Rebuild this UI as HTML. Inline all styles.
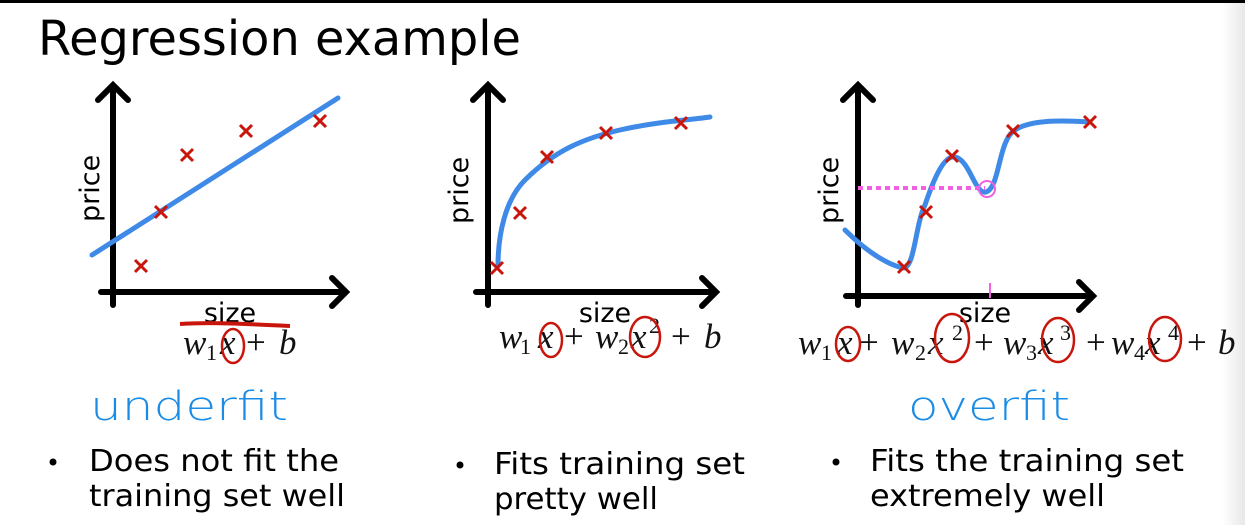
<!DOCTYPE html>
<html><head><meta charset="utf-8"><style>
html,body{margin:0;padding:0;background:#fff;}
svg{display:block}
</style></head><body>
<svg width="1245" height="525" viewBox="0 0 1245 525" xmlns="http://www.w3.org/2000/svg">
<defs><linearGradient id="g" x1="0" x2="1"><stop offset="0" stop-color="#fff"/><stop offset="1" stop-color="#e8e8e8"/></linearGradient></defs>
<rect x="0" y="0" width="1245" height="525" fill="#fff"/>
<rect x="1222" y="0" width="23" height="525" fill="url(#g)"/>
<rect x="0" y="0" width="1245" height="3" fill="#000"/>
<text x="38" y="55" font-family="DejaVu Sans, sans-serif" font-size="48" textLength="483" lengthAdjust="spacingAndGlyphs">Regression example</text>

<g fill="none" stroke="#000" stroke-width="6" stroke-linecap="round" stroke-linejoin="miter">
<path d="M113 305V85M98 100L113 85L128 100"/>
<path d="M101 292H346M332 278L346 292L332 306"/>
<path d="M488 305V85M473 100L488 85L503 100"/>
<path d="M476 292H716M702 278L716 292L702 306"/>
<path d="M858 305V85M843 100L858 85L873 100"/>
<path d="M846 296H1093M1079 282L1093 296L1079 310"/>
</g>
<g font-family="DejaVu Sans, sans-serif" font-size="27" fill="#000">
<text x="230" y="322" text-anchor="middle">size</text>
<text x="605" y="322" text-anchor="middle">size</text>
<text x="985" y="322" text-anchor="middle">size</text>
<text transform="translate(99,222) rotate(-90)">price</text>
<text transform="translate(468,224) rotate(-90)">price</text>
<text transform="translate(838,224) rotate(-90)">price</text>
</g>
<g fill="none" stroke="#3f8ae6" stroke-width="5" stroke-linecap="round">
<path d="M92 255L338 98"/>
<path d="M498 266C498 235 505 200 525 180C555 150 585 138 620 130C660 121 690 120 710 117"/>
<path d="M845 230C870 255 890 265 903 268C915 268 915 225 925 205C935 175 945 155 955 157C970 160 975 195 986 192C1000 188 998 140 1015 130C1030 120 1060 120 1090 122"/>
</g>
<path d="M858 188H985" stroke="#f060e0" stroke-width="4" stroke-dasharray="5,4" fill="none"/>
<circle cx="987" cy="189" r="8" stroke="#f060e0" stroke-width="2" fill="none"/>
<path d="M990 283V298" stroke="#f060e0" stroke-width="2"/>
<g stroke="#c8160c" stroke-width="3" fill="none">
<path d="M135 260l12 12m0-12l-12 12M155 206l12 12m0-12l-12 12M181 149l12 12m0-12l-12 12M240 125l12 12m0-12l-12 12M314 115l12 12m0-12l-12 12"/>
<path d="M491 262l12 12m0-12l-12 12M514 207l12 12m0-12l-12 12M541 151l12 12m0-12l-12 12M600 127l12 12m0-12l-12 12M675 117l12 12m0-12l-12 12"/>
<path d="M898 261l12 12m0-12l-12 12M920 206l12 12m0-12l-12 12M946 150l12 12m0-12l-12 12M1007 125l12 12m0-12l-12 12M1084 116l12 12m0-12l-12 12"/>
</g>
<g font-family="Liberation Serif, serif" font-style="italic" font-size="35" fill="#111">
<text x="183" y="354">w</text><text x="206" y="360" font-size="22" font-style="normal">1</text><text x="220" y="354">x</text><text x="246" y="354" font-style="normal">+</text><text x="279" y="354">b</text>

<text x="499" y="348">w</text><text x="520" y="354" font-size="22" font-style="normal">1</text><text x="538" y="348">x</text><text x="564" y="348" font-style="normal">+</text><text x="595" y="348">w</text><text x="618" y="354" font-size="22" font-style="normal">2</text><text x="631" y="348">x</text><text x="649" y="333" font-size="22" font-style="normal">2</text><text x="671" y="348" font-style="normal">+</text><text x="704" y="348">b</text>

<text x="798" y="354">w</text><text x="821" y="360" font-size="22" font-style="normal">1</text><text x="837" y="354">x</text><text x="859" y="354" font-style="normal">+</text><text x="891" y="354">w</text><text x="915" y="360" font-size="22" font-style="normal">2</text><text x="928" y="354">x</text><text x="952" y="340" font-size="22" font-style="normal">2</text><text x="974" y="354" font-style="normal">+</text><text x="1003" y="354">w</text><text x="1026" y="360" font-size="22" font-style="normal">3</text><text x="1038" y="354">x</text><text x="1060" y="340" font-size="22" font-style="normal">3</text><text x="1086" y="354" font-style="normal">+</text><text x="1111" y="354">w</text><text x="1134" y="360" font-size="22" font-style="normal">4</text><text x="1145" y="354">x</text><text x="1168" y="340" font-size="22" font-style="normal">4</text><text x="1187" y="354" font-style="normal">+</text><text x="1218" y="354">b</text>
</g>
<g fill="none" stroke="#c8160c" stroke-width="2.5">
<path d="M180 324C210 322 250 324 290 326" stroke-width="4"/>
<ellipse cx="233" cy="346" rx="11" ry="17"/>
<ellipse cx="551" cy="340" rx="11" ry="17"/>
<ellipse cx="645" cy="337" rx="15" ry="20"/>
<ellipse cx="848" cy="344" rx="12" ry="17"/>
<ellipse cx="952" cy="338" rx="17" ry="24"/>
<ellipse cx="1058" cy="340" rx="16" ry="22"/>
<ellipse cx="1165" cy="339" rx="16" ry="22"/>
</g>
<g font-family="DejaVu Sans, sans-serif" font-weight="200" fill="#1a8ce6" font-size="40">
<text x="90" y="420" textLength="198" lengthAdjust="spacingAndGlyphs">underfit</text>
<text x="908" y="420" textLength="162" lengthAdjust="spacingAndGlyphs">overfit</text>
</g>
<g font-family="DejaVu Sans, sans-serif" font-size="30" fill="#000">
<circle cx="53" cy="462" r="3.5"/>
<text x="89" y="471" textLength="250" lengthAdjust="spacingAndGlyphs">Does not fit the</text>
<text x="89" y="506" textLength="256" lengthAdjust="spacingAndGlyphs">training set well</text>
<circle cx="460" cy="465" r="3.5"/>
<text x="494" y="474" textLength="251" lengthAdjust="spacingAndGlyphs">Fits training set</text>
<text x="494" y="509" textLength="164" lengthAdjust="spacingAndGlyphs">pretty well</text>
<circle cx="836" cy="462" r="3.5"/>
<text x="870" y="471" textLength="314" lengthAdjust="spacingAndGlyphs">Fits the training set</text>
<text x="870" y="506" textLength="235" lengthAdjust="spacingAndGlyphs">extremely well</text>
</g>
</svg>
</body></html>
